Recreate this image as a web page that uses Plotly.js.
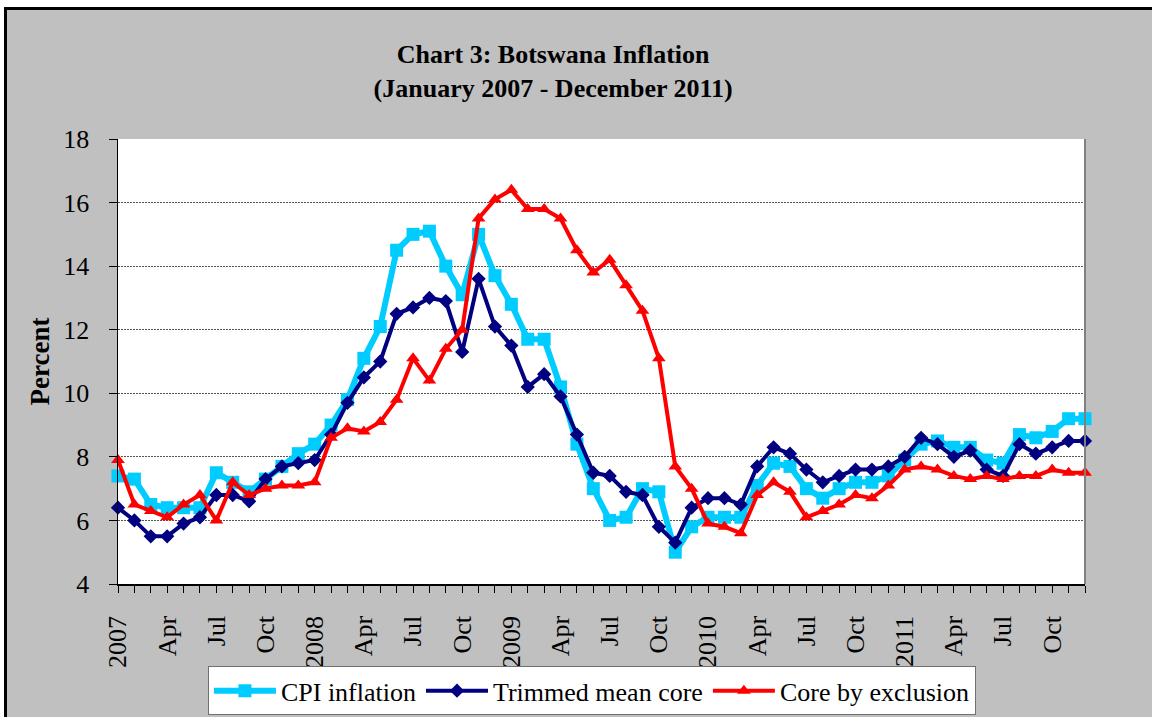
<!DOCTYPE html>
<html>
<head>
<meta charset="utf-8">
<script src="https://cdn.plot.ly/plotly-3.0.1.min.js"></script>
<style>
  html, body { margin: 0; padding: 0; background: #ffffff; width: 1152px; height: 717px; overflow: hidden; }
  #chart { position: absolute; left: 4px; top: 7px; width: 1145px; height: 707px;
           border-left: 3px solid #000; border-top: 3px solid #000; }
</style>
</head>
<body>
<div id="chart"></div>
<script>
// ---- data ----
const years = ['2007', '2008', '2009', '2010', '2011'];
const monthNames = ['Jan', 'Feb', 'Mar', 'Apr', 'May', 'Jun', 'Jul', 'Aug', 'Sep', 'Oct', 'Nov', 'Dec'];
const shownMonths = ['Apr', 'Jul', 'Oct'];

const cpiInflation = [
  7.4, 7.3, 6.5, 6.4, 6.4, 6.4, 7.5, 7.2, 6.9, 7.3, 7.7, 8.1,
  8.4, 9.0, 9.8, 11.1, 12.1, 14.5, 15.0, 15.1, 14.0, 13.1, 15.0, 13.7,
  12.8, 11.7, 11.7, 10.2, 8.4, 7.0, 6.0, 6.1, 7.0, 6.9, 5.0, 5.8,
  6.1, 6.1, 6.1, 7.1, 7.8, 7.7, 7.0, 6.7, 7.0, 7.2, 7.2, 7.4,
  7.9, 8.4, 8.5, 8.3, 8.3, 7.9, 7.8, 8.7, 8.6, 8.8, 9.2, 9.2
];
const trimmedMeanCore = [
  6.4, 6.0, 5.5, 5.5, 5.9, 6.1, 6.8, 6.8, 6.6, 7.3, 7.7, 7.8,
  7.9, 8.7, 9.7, 10.5, 11.0, 12.5, 12.7, 13.0, 12.9, 11.3, 13.6, 12.1,
  11.5, 10.2, 10.6, 9.9, 8.7, 7.5, 7.4, 6.9, 6.8, 5.8, 5.3, 6.4,
  6.7, 6.7, 6.5, 7.7, 8.3, 8.1, 7.6, 7.2, 7.4, 7.6, 7.6, 7.7,
  8.0, 8.6, 8.4, 8.0, 8.2, 7.6, 7.4, 8.4, 8.1, 8.3, 8.5, 8.5
];
const coreByExclusion = [
  7.9, 6.5, 6.3, 6.1, 6.5, 6.8, 6.0, 7.2, 6.8, 7.0, 7.1, 7.1,
  7.2, 8.6, 8.9, 8.8, 9.1, 9.8, 11.1, 10.4, 11.4, 12.0, 15.5, 16.1,
  16.4, 15.8, 15.8, 15.5, 14.5, 13.8, 14.2, 13.4, 12.6, 11.1, 7.7, 7.0,
  5.9, 5.8, 5.6, 6.8, 7.2, 6.9, 6.1, 6.3, 6.5, 6.8, 6.7, 7.1,
  7.6, 7.7, 7.6, 7.4, 7.3, 7.4, 7.3, 7.4, 7.4, 7.6, 7.5, 7.5
];

// ---- derived ----
const x = [];
const tickText = [];
years.forEach(function (y) {
  monthNames.forEach(function (m) {
    x.push(x.length);
    if (m === 'Jan') tickText.push(y);
    else if (shownMonths.indexOf(m) >= 0) tickText.push(m);
    else tickText.push('');
  });
});

const FONT = 'Liberation Serif, Times New Roman, serif';

const traces = [
  { name: 'CPI inflation', x: x, y: cpiInflation, type: 'scatter', mode: 'lines+markers',
    line: { color: '#00CCFF', width: 6 }, marker: { symbol: 'square', size: 13, color: '#00CCFF' },
    cliponaxis: false },
  { name: 'Trimmed mean core', x: x, y: trimmedMeanCore, type: 'scatter', mode: 'lines+markers',
    line: { color: '#000080', width: 4 }, marker: { symbol: 'diamond', size: 11, color: '#000080' },
    cliponaxis: false },
  { name: 'Core by exclusion', x: x, y: coreByExclusion, type: 'scatter', mode: 'lines+markers',
    line: { color: '#FF0000', width: 4 }, marker: { symbol: 'triangle-up', size: 12, color: '#FF0000' },
    cliponaxis: false }
];

const layout = {
  width: 1145, height: 707,
  paper_bgcolor: '#C0C0C0', plot_bgcolor: '#FFFFFF',
  margin: { l: 111, r: 67, t: 129, b: 133, autoexpand: false },
  font: { family: FONT, size: 26, color: '#000' },
  title: {
    text: '<b>Chart 3: Botswana Inflation</b><br><b>(January 2007 - December 2011)</b>',
    font: { family: FONT, size: 26, color: '#000' },
    x: 0.477, xref: 'container', xanchor: 'center',
    y: 0.925, yref: 'container', yanchor: 'top'
  },
  xaxis: {
    range: [0, 59], tickmode: 'array', tickvals: x, ticktext: tickText,
    tickangle: -90, ticks: 'outside', ticklen: 7, tickcolor: '#000', tickwidth: 1,
    showline: true, linecolor: '#000', linewidth: 1.5, showgrid: false, zeroline: false,
    tickfont: { family: FONT, size: 26, color: '#000' }, ticklabelstandoff: 13,
    automargin: false, fixedrange: true
  },
  yaxis: {
    range: [4, 18], dtick: 2, tick0: 4,
    ticks: 'outside', ticklen: 8, tickcolor: '#000', tickwidth: 1,
    showline: true, linecolor: '#000', linewidth: 1.5,
    showgrid: true, gridcolor: '#555555', griddash: '2px,1px', gridwidth: 1, zeroline: false,
    tickfont: { family: FONT, size: 26, color: '#000' }, ticklabelstandoff: 14,
    title: { text: '<b>Percent</b>', font: { family: FONT, size: 27, color: '#000' }, standoff: 6 },
    automargin: false, fixedrange: true
  },
  legend: {
    orientation: 'h', x: 0.093, xanchor: 'left', y: -0.24, yanchor: 'middle',
    bgcolor: '#FFFFFF', bordercolor: '#707070', borderwidth: 1,
    font: { family: FONT, size: 26, color: '#000' }, itemwidth: 62, tracegroupgap: 0
  },
  shapes: [
    { type: 'line', xref: 'paper', yref: 'paper', x0: 1, x1: 1, y0: 0, y1: 1,
      line: { color: '#808080', width: 2 }, layer: 'above' }
  ],
  showlegend: true
};

Plotly.newPlot('chart', traces, layout, { displayModeBar: false, staticPlot: true });
</script>
</body>
</html>
